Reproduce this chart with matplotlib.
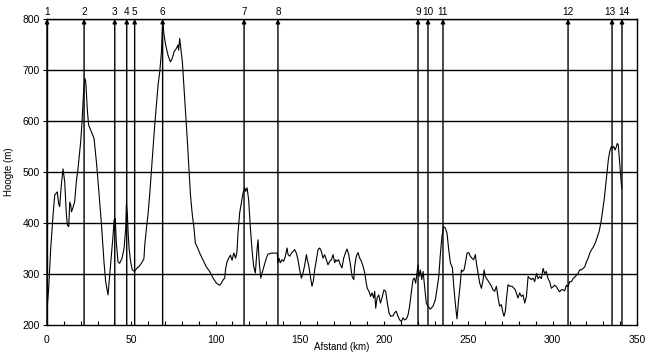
import matplotlib
matplotlib.use("Agg")
import numpy as np
from matplotlib import pyplot as plt
from matplotlib.ticker import MultipleLocator

plt.rcParams["font.family"] = ["Liberation Sans", "DejaVu Sans"]
plt.rcParams["font.size"] = 7.5

afstand = [
    0.0, 1.0, 2.2, 3.6, 4.6, 6.1, 6.9, 7.5, 8.5, 9.5, 10.5, 11.5, 12.1, 12.9, 13.5, 14.1, 14.5, 15.2,
    16.4, 17.4, 18.4, 20.0, 20.8, 21.6, 22.4, 23.0, 24.0, 24.7, 26.3, 27.9, 29.3, 30.3, 32.2, 33.8,
    34.8, 36.2, 37.2, 38.2, 39.2, 39.8, 40.5, 41.1, 42.1, 43.1, 44.5, 45.7, 46.7, 47.1, 47.7, 48.1,
    48.7, 49.6, 50.6, 52.0, 53.2, 54.4, 56.0, 57.5, 58.0, 59.0, 59.9, 60.9, 61.9, 62.9, 63.9, 64.9,
    65.9, 66.9, 67.9, 68.4, 68.8, 69.4, 70.4, 71.8, 73.2, 74.2, 75.4, 76.7, 77.7, 78.1, 78.7, 79.3,
    80.3, 81.3, 82.3, 83.3, 84.3, 85.1, 86.2, 87.2, 88.0, 89.0, 90.6, 92.6, 94.5, 96.5, 98.5, 100.5,
    102.4, 103.4, 104.4, 105.4, 106.0, 106.8, 107.8, 108.8, 109.8, 110.8, 111.9, 112.7, 113.3, 114.3,
    115.3, 116.3, 117.3, 117.9, 118.7, 119.6, 120.6, 121.6, 122.6, 123.6, 124.6, 125.2, 125.8, 126.8,
    127.6, 128.7, 130.1, 131.1, 133.1, 135.1, 136.6, 137.0, 137.6, 138.4, 139.4, 140.4, 141.4, 142.4,
    143.0, 144.0, 145.0, 145.9, 146.9, 147.9, 148.9, 149.9, 150.9, 151.9, 152.9, 153.9, 154.4, 155.2,
    156.2, 157.2, 158.0, 158.8, 159.8, 160.8, 161.8, 162.8, 163.7, 164.7, 165.7, 166.7, 167.7, 168.7,
    169.7, 170.7, 171.3, 172.0, 173.0, 174.0, 175.0, 176.0, 177.0, 178.0, 179.0, 180.0, 181.0, 182.0,
    182.5, 183.5, 184.5, 185.5, 186.5, 187.5, 188.5, 189.4, 190.0, 191.0, 192.0, 192.8, 193.8, 194.4,
    195.0, 195.8, 196.8, 197.8, 198.7, 199.9, 200.9, 201.9, 202.9, 203.9, 205.3, 206.2, 207.2, 208.2,
    209.2, 210.2, 211.2, 212.2, 213.2, 214.2, 215.1, 216.1, 217.1, 217.9, 218.7, 219.5, 220.1, 220.7,
    221.5, 222.3, 223.1, 224.0, 225.0, 226.0, 227.4, 229.0, 230.4, 231.6, 232.4, 233.4, 234.3, 235.3,
    236.3, 237.3, 238.3, 239.3, 240.5, 241.3, 242.2, 243.2, 244.2, 245.2, 245.8, 246.4, 247.4, 248.2,
    249.2, 250.2, 251.1, 252.1, 253.1, 254.1, 254.7, 255.7, 256.7, 257.7, 258.7, 259.3, 260.0, 261.2,
    262.6, 263.6, 264.6, 265.6, 266.6, 267.6, 268.5, 269.5, 270.5, 271.1, 271.9, 272.7, 273.5, 274.5,
    275.9, 277.0, 277.8, 278.8, 279.4, 280.4, 281.4, 282.4, 283.4, 284.4, 285.4, 286.3, 287.3, 288.3,
    289.3, 290.3, 291.3, 292.3, 293.3, 294.3, 295.2, 296.2, 297.2, 298.2, 299.2, 300.2, 301.2, 302.2,
    303.2, 304.1, 305.1, 306.1, 307.1, 308.1, 309.1, 310.1, 311.1, 312.1, 313.4, 315.0, 316.0, 317.0,
    318.0, 319.0, 320.0, 321.0, 322.0, 322.9, 324.3, 325.5, 326.5, 327.5, 328.3, 329.1, 329.8, 330.6,
    331.4, 332.2, 333.0, 333.8, 334.8, 335.4, 336.2, 337.0, 337.8, 338.3, 338.9, 339.7, 340.3, 340.9,
]
hoogte = [
    230, 272, 350, 416, 455, 461, 438, 432, 474, 506, 481, 416, 396, 393, 441, 435, 422, 428,
    442, 481, 507, 560, 599, 651, 684, 677, 618, 592, 579, 566, 520, 481, 402, 324,
    285, 259, 298, 337, 376, 406, 409, 363, 324, 321, 331, 350, 389, 438, 416, 383,
    350, 324, 308, 305, 311, 314, 321, 330, 357, 390, 416, 455, 501, 546, 592, 631,
    671, 697, 736, 782, 792, 769, 749, 729, 716, 722, 736, 742, 749, 739, 762, 745,
    716, 664, 612, 559, 501, 455, 416, 390, 360, 354, 341, 327, 314, 305, 292, 282,
    278, 282, 288, 292, 311, 324, 331, 337, 327, 341, 331, 344, 380, 420,
    439, 459, 469, 462, 469, 446, 393, 348, 315, 302, 348, 367, 328, 292,
    302, 315, 331, 339, 341, 341, 341, 322, 331, 322, 328, 325, 335, 351,
    338, 335, 341, 344, 348, 341, 328, 308, 292, 302, 318, 338, 328, 318,
    296, 276, 286, 308, 328, 348, 351, 344, 331, 338, 328, 318, 325, 328,
    338, 322, 328, 325, 328, 318, 312, 331, 341, 349, 338, 318, 295, 289,
    315, 335, 342, 331, 325, 315, 302, 282, 272, 266, 256, 263, 253, 266,
    233, 253, 259, 243, 253, 269, 266, 243, 224, 217, 218, 224, 227, 217,
    210, 207, 214, 210, 212, 220, 237, 263, 289, 292, 282, 302, 318, 295,
    308, 289, 305, 276, 243, 237, 231, 237, 250, 276, 295, 341, 374, 393,
    390, 380, 348, 322, 312, 276, 243, 212, 250, 282, 308, 305, 308, 322,
    341, 342, 335, 331, 328, 338, 322, 302, 282, 272, 289, 308, 295, 289,
    282, 276, 269, 266, 276, 253, 237, 240, 224, 217, 227, 256, 279, 276,
    276, 272, 269, 259, 253, 263, 256, 259, 243, 256, 295, 292, 289, 292,
    285, 301, 291, 295, 291, 311, 301, 305, 291, 285, 272, 275, 278, 275,
    269, 265, 269, 269, 267, 278, 275, 285, 285, 291, 295, 301, 308, 308,
    311, 314, 324, 331, 341, 347, 354, 363, 373, 383, 396, 412, 429, 448,
    474, 501, 524, 540, 550, 546, 550, 543, 550, 556, 553, 520, 494, 468,
]

# routepunten
punt_km = [0.0, 22.0, 40.2, 47.3, 52.0, 68.6, 116.9, 137.0, 220.1, 226.0, 234.9, 309.1, 335.2, 341.1]
punt_label = [str(i) for i in range(1, 15)]

fig = plt.figure(figsize=(6.51, 3.6), dpi=100)
ax = fig.add_axes([47 / 651, 35 / 360, 590 / 651, 306 / 360])

ax.set_xlim(0, 350)
ax.set_ylim(200, 800)

# horizontale rasterlijnen
for y in range(300, 801, 100):
    ax.axhline(y, color="black", lw=1.0, zorder=1)

ax.plot(afstand, hoogte, color="black", lw=0.8, zorder=3)

# verticale lijnen met pijl en nummer
for i, (km, lab) in enumerate(zip(punt_km, punt_label)):
    ax.annotate("", xy=(km, 800), xytext=(km, 200),
                arrowprops=dict(arrowstyle="-|>", color="black", lw=1.0,
                                mutation_scale=6, shrinkA=0, shrinkB=0),
                zorder=2, annotation_clip=False)
    # 13 en 14 liggen vlak naast elkaar
    dx = -1.2 if lab == "13" else (1.2 if lab == "14" else 0)
    ax.annotate(lab, xy=(km, 800), xytext=(dx, 1.5), textcoords="offset points",
                ha="center", va="bottom", fontsize=7.2, annotation_clip=False)

for s in ax.spines.values():
    s.set_color("black")
    s.set_linewidth(1.0)

ax.xaxis.set_major_locator(MultipleLocator(50))
ax.xaxis.set_minor_locator(MultipleLocator(10))
ax.yaxis.set_major_locator(MultipleLocator(100))
ax.tick_params(axis="x", which="both", direction="in", length=3, width=0.8, pad=7)
ax.tick_params(axis="y", direction="out", length=3, width=0.8, pad=2)

ax.set_xlabel("Afstand (km)", fontsize=7, labelpad=-2)
ax.set_ylabel("Hoogte (m)", fontsize=7, labelpad=6)

fig.savefig("out.png", dpi=100)
